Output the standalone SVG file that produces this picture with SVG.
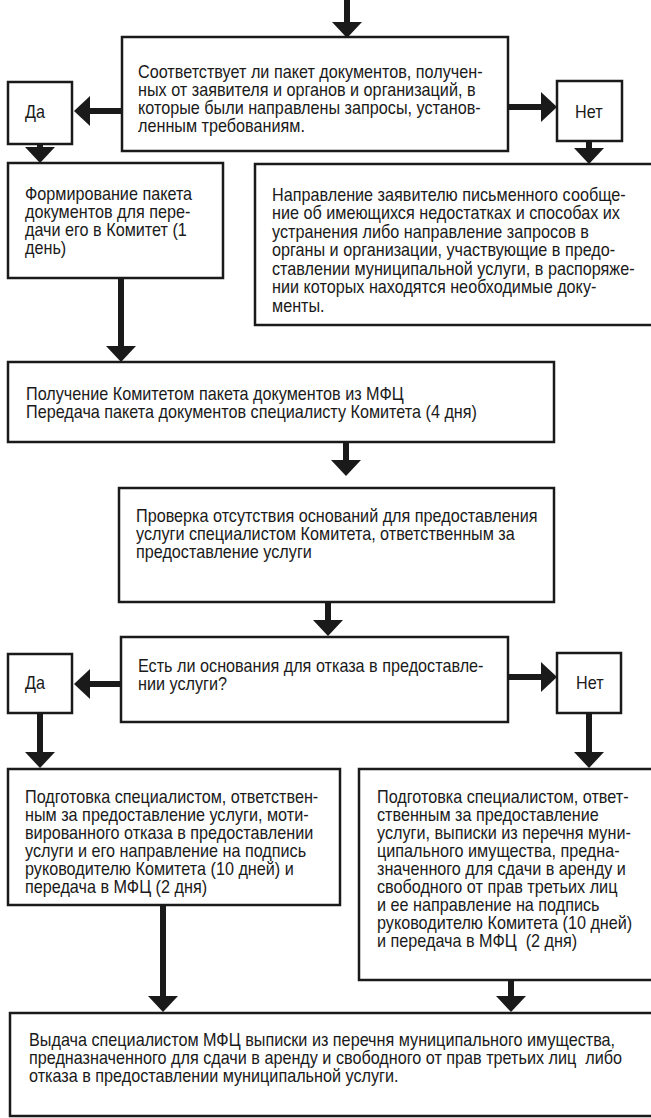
<svg xmlns="http://www.w3.org/2000/svg" width="651" height="1118" viewBox="0 0 651 1118">
<style>
.box{fill:#fff;stroke:#1a1a1a;stroke-width:2.5}
.t{font-family:"Liberation Sans",Arial,sans-serif;font-size:18px;fill:#1a1a1a;white-space:pre}
.c{fill:none;stroke:#1a1a1a;stroke-width:6}
</style>
<defs>
<marker id="ah" markerUnits="userSpaceOnUse" viewBox="0 0 16 30" markerWidth="16" markerHeight="30" refX="0" refY="15" orient="auto">
<path d="M0,0 L16,15 L0,30 Z" fill="#1a1a1a"/>
</marker>
</defs>
<rect width="651" height="1118" fill="#fff"/>
<g id="connectors">
<path class="c" marker-end="url(#ah)" d="M347,0 V22"/>
<path class="c" marker-end="url(#ah)" d="M122,111 H90"/>
<path class="c" marker-end="url(#ah)" d="M508,107 H541"/>
<path class="c" marker-end="url(#ah)" d="M40,143 V147"/>
<path class="c" marker-end="url(#ah)" d="M589,140 V148"/>
<path class="c" marker-end="url(#ah)" d="M121,277 V346"/>
<path class="c" marker-end="url(#ah)" d="M346,441 V460"/>
<path class="c" marker-end="url(#ah)" d="M328,601 V620"/>
<path class="c" marker-end="url(#ah)" d="M121,684 H90"/>
<path class="c" marker-end="url(#ah)" d="M508,677 H541"/>
<path class="c" marker-end="url(#ah)" d="M40,712 V752"/>
<path class="c" marker-end="url(#ah)" d="M589,712 V752"/>
<path class="c" marker-end="url(#ah)" d="M163,904 V996"/>
<path class="c" marker-end="url(#ah)" d="M511,979 V996"/>
</g>
<g id="q1">
<rect class="box" x="122" y="37" width="386" height="114"/>
<text class="t" transform="translate(138 0) scale(0.9 1)"><tspan x="0" y="78">Соответствует ли пакет документов, получен-</tspan><tspan x="0" y="96">ных от заявителя и органов и организаций, в</tspan><tspan x="0" y="114">которые были направлены запросы, установ-</tspan><tspan x="0" y="132">ленным требованиям.</tspan></text>
</g>
<g id="yes1">
<rect class="box" x="8" y="82" width="64" height="62"/>
<text class="t" transform="translate(25 0) scale(0.9 1)" x="0" y="118">Да</text>
</g>
<g id="no1">
<rect class="box" x="557" y="81" width="65" height="60"/>
<text class="t" transform="translate(575 0) scale(0.9 1)" x="0" y="118">Нет</text>
</g>
<g id="form">
<rect class="box" x="8" y="163" width="215" height="115"/>
<text class="t" transform="translate(25 0) scale(0.9 1)"><tspan x="0" y="200">Формирование пакета</tspan><tspan x="0" y="218">документов для пере-</tspan><tspan x="0" y="236">дачи его в Комитет (1</tspan><tspan x="0" y="254">день)</tspan></text>
</g>
<g id="notify">
<rect class="box" x="255" y="164" width="405" height="161"/>
<text class="t" transform="translate(272 0) scale(0.9 1)"><tspan x="0" y="201">Направление заявителю письменного сообще-</tspan><tspan x="0" y="219.5">ние об имеющихся недостатках и способах их</tspan><tspan x="0" y="238">устранения либо направление запросов в</tspan><tspan x="0" y="256.5">органы и организации, участвующие в предо-</tspan><tspan x="0" y="275">ставлении муниципальной услуги, в распоряже-</tspan><tspan x="0" y="293.5">нии которых находятся необходимые доку-</tspan><tspan x="0" y="312">менты.</tspan></text>
</g>
<g id="receive">
<rect class="box" x="8" y="362" width="546" height="80"/>
<text class="t" transform="translate(26 0) scale(0.9 1)"><tspan x="0" y="400">Получение Комитетом пакета документов из МФЦ</tspan><tspan x="0" y="418">Передача пакета документов специалисту Комитета (4 дня)</tspan></text>
</g>
<g id="check">
<rect class="box" x="119" y="488" width="435" height="114"/>
<text class="t" transform="translate(136 0) scale(0.9 1)"><tspan x="0" y="522">Проверка отсутствия оснований для предоставления</tspan><tspan x="0" y="540">услуги специалистом Комитета, ответственным за</tspan><tspan x="0" y="558">предоставление услуги</tspan></text>
</g>
<g id="q2">
<rect class="box" x="121" y="637" width="387" height="85"/>
<text class="t" transform="translate(138 0) scale(0.9 1)"><tspan x="0" y="672">Есть ли основания для отказа в предоставле-</tspan><tspan x="0" y="690">нии услуги?</tspan></text>
</g>
<g id="yes2">
<rect class="box" x="8" y="654" width="64" height="59"/>
<text class="t" transform="translate(25 0) scale(0.9 1)" x="0" y="689">Да</text>
</g>
<g id="no2">
<rect class="box" x="557" y="653" width="64" height="60"/>
<text class="t" transform="translate(576 0) scale(0.9 1)" x="0" y="689">Нет</text>
</g>
<g id="refuse">
<rect class="box" x="8" y="769" width="332" height="136"/>
<text class="t" transform="translate(25 0) scale(0.9 1)"><tspan x="0" y="803">Подготовка специалистом, ответствен-</tspan><tspan x="0" y="821">ным за предоставление услуги, моти-</tspan><tspan x="0" y="839">вированного отказа в предоставлении</tspan><tspan x="0" y="857">услуги и его направление на подпись</tspan><tspan x="0" y="875">руководителю Комитета (10 дней) и</tspan><tspan x="0" y="893">передача в МФЦ (2 дня)</tspan></text>
</g>
<g id="extract">
<rect class="box" x="359" y="769" width="301" height="211"/>
<text class="t" transform="translate(377 0) scale(0.9 1)"><tspan x="0" y="803">Подготовка специалистом, ответ-</tspan><tspan x="0" y="821">ственным за предоставление</tspan><tspan x="0" y="839">услуги, выписки из перечня муни-</tspan><tspan x="0" y="857">ципального имущества, предна-</tspan><tspan x="0" y="875">значенного для сдачи в аренду и</tspan><tspan x="0" y="893">свободного от прав третьих лиц</tspan><tspan x="0" y="911">и ее направление на подпись</tspan><tspan x="0" y="929">руководителю Комитета (10 дней)</tspan><tspan x="0" y="947">и передача в МФЦ  (2 дня)</tspan></text>
</g>
<g id="issue">
<rect class="box" x="10" y="1013" width="650" height="103"/>
<text class="t" transform="translate(29 0) scale(0.9 1)"><tspan x="0" y="1046">Выдача специалистом МФЦ выписки из перечня муниципального имущества,</tspan><tspan x="0" y="1064">предназначенного для сдачи в аренду и свободного от прав третьих лиц  либо</tspan><tspan x="0" y="1082">отказа в предоставлении муниципальной услуги.</tspan></text>
</g>
</svg>
